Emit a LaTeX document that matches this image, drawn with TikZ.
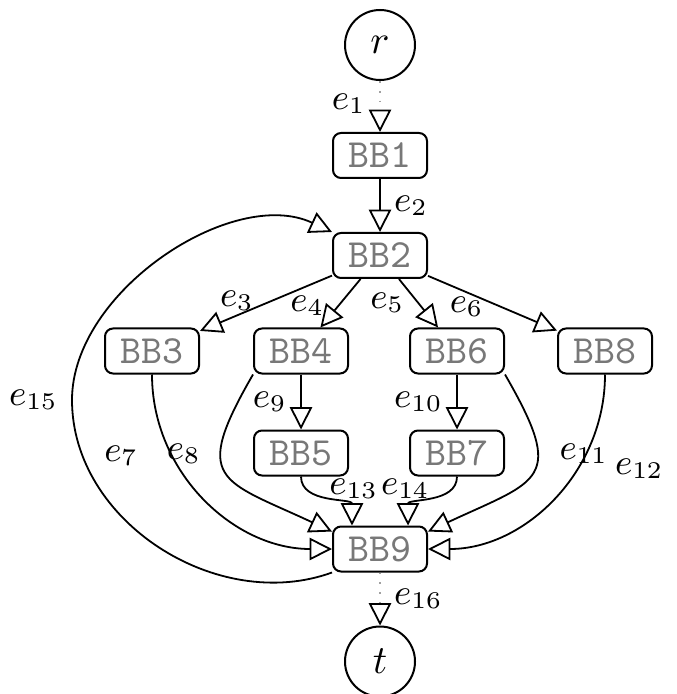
\documentclass[tikz,border=0pt]{standalone}
\usepackage{tikz}
\usetikzlibrary{arrows.meta,positioning}
\definecolor{cfgtext}{HTML}{787878}
\definecolor{cfgdot}{HTML}{A0A0A0}
\tikzset{
  bb/.style={draw,rounded corners=2pt,line width=0.5pt,minimum width=23.5pt,minimum height=11.25pt,inner sep=1pt,font=\ttfamily,text=cfgtext},
  term/.style={draw,circle,line width=0.5pt,minimum size=17.5pt,inner sep=0pt},
  ed/.style={-{Triangle[open,length=5.6pt,width=5.6pt,color=black]},line width=0.45pt},
  edd/.style={ed,draw=cfgdot,dotted},
  lbl/.style={font=\small},
}
\begin{document}
\begin{tikzpicture}[x=0.25pt,y=0.25pt]
  \useasboundingbox (0,0) rectangle (676,-694);
  \node[term] (r) at (380,-45) {$r$};
  \node[bb,below=12.75pt of r] (bb1) {BB1};
  \node[bb,below=13.25pt of bb1] (bb2) {BB2};
  \node[bb] (bb3) at (152,-351) {BB3};
  \node[bb] (bb4) at (301,-351) {BB4};
  \node[bb] (bb6) at (457,-351) {BB6};
  \node[bb] (bb8) at (605,-351) {BB8};
  \node[bb,below=13.75pt of bb4] (bb5) {BB5};
  \node[bb,below=13.75pt of bb6] (bb7) {BB7};
  \node[bb] (bb9) at (380,-549) {BB9};
  \node[term,below=13.25pt of bb9] (t) {$t$};
  \coordinate (loop) at (72,-400);
  % entry / exit
  \draw[edd] (r) -- node[lbl,left,pos=0.45] {$e_1$} (bb1);
  \draw[ed] (bb1) -- node[lbl,right] {$e_2$} (bb2);
  \draw[edd] (bb9) -- node[lbl,right] {$e_{16}$} (t);
  % out of BB2
  \draw[ed] (bb2) -- node[lbl,above,pos=0.72,inner sep=1pt] {$e_3$} (bb3);
  \draw[ed] (bb2) -- node[lbl,left,pos=0.55] {$e_4$} (bb4);
  \draw[ed] (bb2) -- node[lbl,left,pos=0.5] {$e_5$} (bb6);
  \draw[ed] (bb2) -- node[lbl,below,pos=0.3,inner sep=1pt] {$e_6$} (bb8);
  % middle
  \draw[ed] (bb4) -- node[lbl,left] {$e_9$} (bb5);
  \draw[ed] (bb6) -- node[lbl,left] {$e_{10}$} (bb7);
  % into BB9
  \draw[ed] (bb3) to[out=-90,in=180] node[lbl,left=5pt,pos=0.3] {$e_7$} (bb9);
  \draw[ed] (bb4.south west) to[out=-120,in=155,looseness=1.8] node[lbl,left,pos=0.35,xshift=-1.5pt] {$e_8$} (bb9.160);
  \draw[ed] (bb5) to[out=-90,in=90] node[lbl,above right,pos=0.5,inner sep=0.5pt] {$e_{13}$} (bb9.140);
  \draw[ed] (bb7) to[out=-90,in=90] node[lbl,above left,pos=0.5,inner sep=0.5pt] {$e_{14}$} (bb9.40);
  \draw[ed] (bb6.south east) to[out=-60,in=25,looseness=1.8] node[lbl,right=2pt,pos=0.35] {$e_{11}$} (bb9.20);
  \draw[ed] (bb8) to[out=-90,in=0] node[lbl,right=6pt,pos=0.36] {$e_{12}$} (bb9);
  % back edge
  \draw[ed] (bb9.south west) to[out=200,in=-90] (loop) node[lbl,left] {$e_{15}$}
    to[out=90,in=155,looseness=0.9] (bb2.north west);
\end{tikzpicture}
\end{document}
